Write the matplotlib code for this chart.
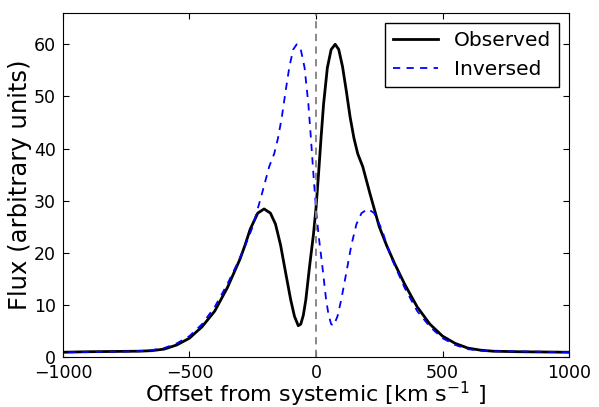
import numpy as np
import matplotlib
matplotlib.use("Agg")
import matplotlib.pyplot as plt

# line profile, velocity offset [km/s] vs flux
offset = np.array([
    -1000, -900, -800, -700, -650, -600, -550, -500, -450, -400,
    -350, -300, -280, -260, -230, -205, -180, -160, -140, -120,
    -100, -85, -70, -60, -50, -40, -25, -10, 0, 10,
    20, 30, 45, 60, 76, 90, 105, 120, 135, 150,
    165, 185, 213, 250, 280, 310, 350, 400, 450, 500,
    550, 600, 650, 700, 800, 900, 1000,
])
flux = np.array([
    0.9, 1.0, 1.05, 1.1, 1.2, 1.5, 2.3, 3.6, 5.8, 8.8,
    13.3, 18.8, 21.5, 24.5, 27.6, 28.4, 27.6, 25.5, 21.5, 16.2,
    11.0, 7.8, 6.0, 6.3, 8.0, 11.0, 17.5, 23.5, 28.5, 35.0,
    42.0, 48.5, 55.5, 59.0, 60.0, 59.0, 55.7, 51.0, 46.0, 42.0,
    39.0, 36.5, 31.4, 25.0, 21.3, 18.0, 14.0, 9.6, 6.3, 4.0,
    2.6, 1.7, 1.3, 1.1, 1.0, 0.95, 0.9,
])

plt.rcParams.update({
    "font.family": "DejaVu Sans",
    "mathtext.fontset": "dejavusans",
    "xtick.direction": "in",
    "ytick.direction": "in",
    "xtick.top": True,
    "ytick.right": True,
    "xtick.major.size": 4,
    "ytick.major.size": 4,
    "xtick.major.pad": 5,
    "ytick.major.pad": 5,
})

fig = plt.figure(figsize=(5.99, 4.07), dpi=100)
ax = fig.add_axes([0.105, 0.123, 0.845, 0.845])

ax.plot(offset, flux, color="black", lw=2, label="Observed")
# mirror the profile about zero velocity
ax.plot(-offset, flux, color="blue", lw=1.3, ls=(0, (4, 3.5)), label="Inversed")
ax.axvline(0, color="gray", lw=1.3, ls=(0, (4, 3)))

ax.set_xlim(-1000, 1000)
ax.set_ylim(0, 66)
ax.set_xticks([-1000, -500, 0, 500, 1000])
ax.set_yticks([0, 10, 20, 30, 40, 50, 60])
ax.tick_params(labelsize=12.5)
ax.set_xlabel(r"Offset from systemic [km s$^{-1}$ ]", fontsize=16, labelpad=-1.75)
ax.set_ylabel("Flux (arbitrary units)", fontsize=17.5, labelpad=1)

leg = ax.legend(loc="upper right", fontsize=14.5, fancybox=False, framealpha=1,
                edgecolor="black", handlelength=2.2, borderaxespad=0.5)
leg.get_frame().set_linewidth(1.0)

fig.savefig("out.png", dpi=100)
